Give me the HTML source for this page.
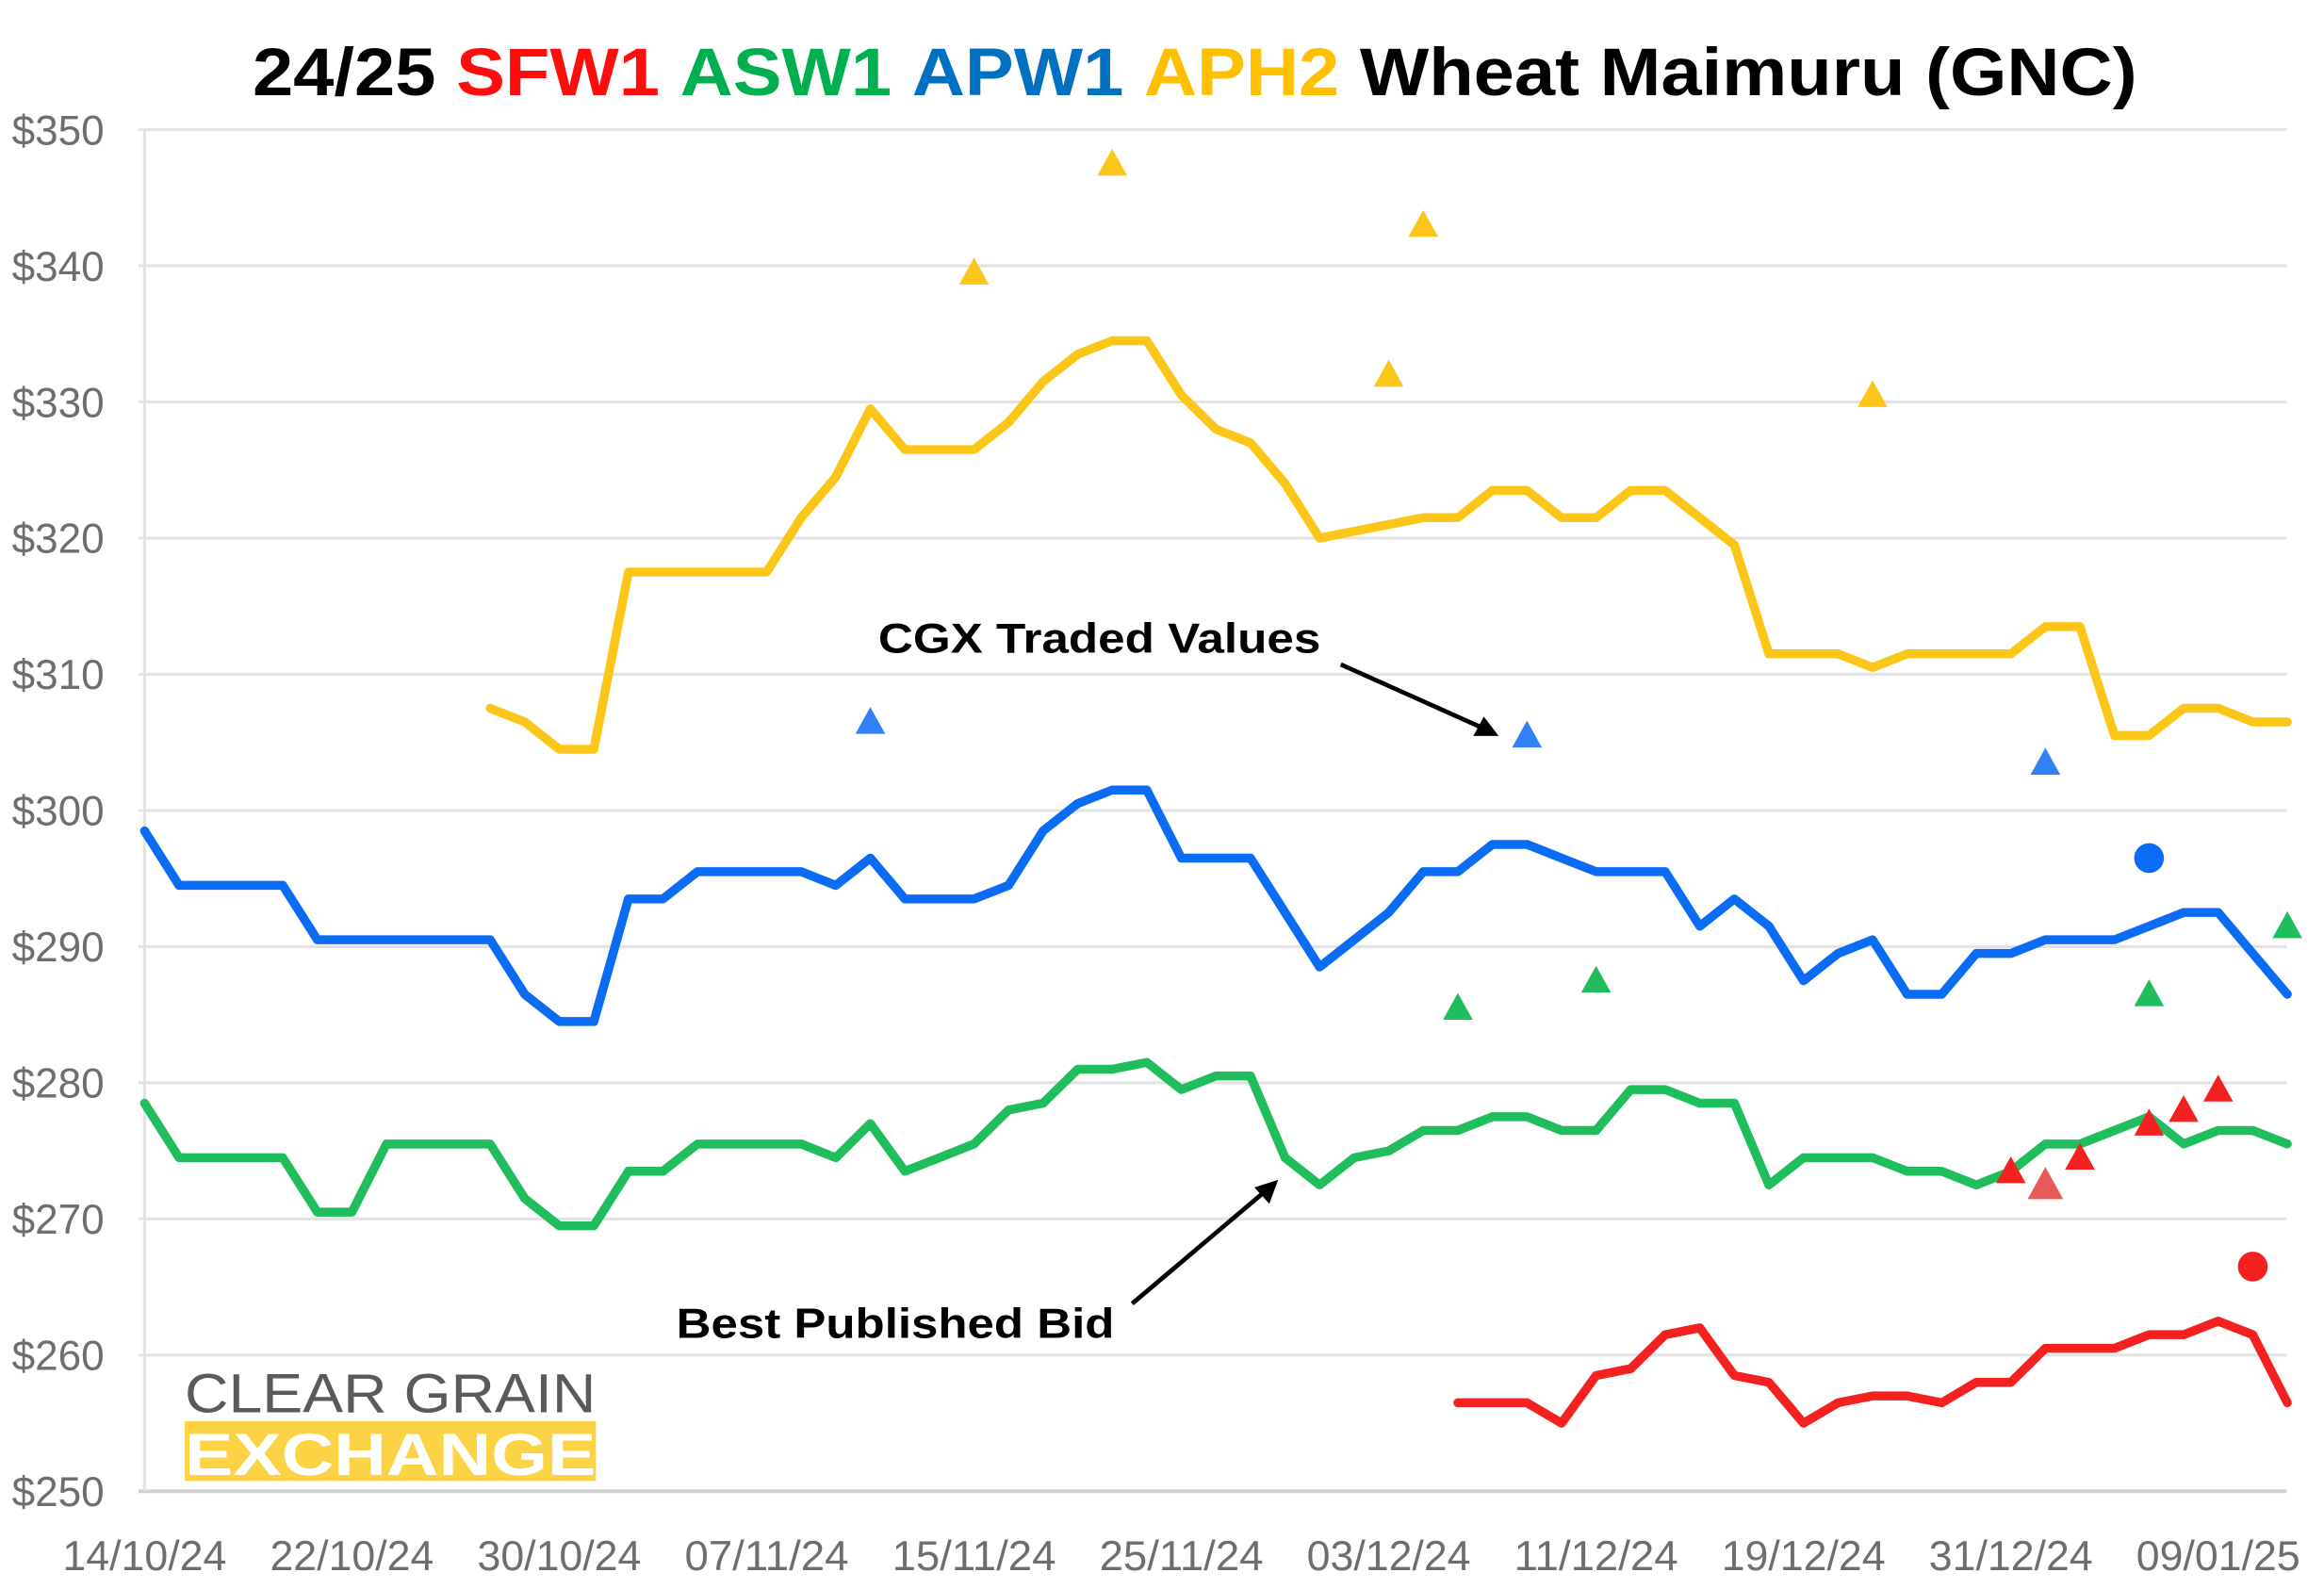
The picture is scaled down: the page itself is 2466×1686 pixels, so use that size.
<!DOCTYPE html>
<html><head><meta charset="utf-8"><style>
html,body{margin:0;padding:0;background:#fff;}
svg{display:block;}
text{font-family:"Liberation Sans",sans-serif;}
</style></head><body>
<svg id="chart" width="2466" height="1686" viewBox="0 0 1560 1066.6" xmlns="http://www.w3.org/2000/svg">
<g>
<text x="802" y="64" text-anchor="middle" font-size="45" font-weight="bold" textLength="1265" lengthAdjust="spacingAndGlyphs"><tspan fill="#000">24/25 </tspan><tspan fill="#ff0d0d">SFW1 </tspan><tspan fill="#00b050">ASW1 </tspan><tspan fill="#0070c0">APW1 </tspan><tspan fill="#ffc000">APH2 </tspan><tspan fill="#000">Wheat Maimuru (GNC)</tspan></text>
</g>
<g id="grid"></g>
<g id="yaxis"></g>
<g id="xaxis"></g>
<g>
<text x="124" y="948" font-size="37" fill="#5a5a5a" textLength="276" lengthAdjust="spacingAndGlyphs">CLEAR GRAIN</text>
<rect x="124" y="954" width="276" height="40" fill="#fcd344"/>
<text x="124" y="990" font-size="40" font-weight="bold" fill="#fff" textLength="276" lengthAdjust="spacingAndGlyphs">EXCHANGE</text>
</g>
<g id="series"></g>
<g id="markers"></g>
<g>
<text x="738" y="438" text-anchor="middle" font-size="28" font-weight="bold" fill="#000" textLength="297" lengthAdjust="spacingAndGlyphs">CGX Traded Values</text>
<line x1="900" y1="446" x2="996" y2="489" stroke="#000" stroke-width="3"/>
<polygon points="1006,494 989,494 996,481" fill="#000"/>
<text x="601" y="898" text-anchor="middle" font-size="28" font-weight="bold" fill="#000" textLength="294" lengthAdjust="spacingAndGlyphs">Best Published Bid</text>
<line x1="760" y1="875" x2="850" y2="799" stroke="#000" stroke-width="3"/>
<polygon points="858,792 852,808 842,797" fill="#000"/>
</g>
</svg>
<script>
const xLabels = ["14/10/24","22/10/24","30/10/24","07/11/24","15/11/24","25/11/24","03/12/24","11/12/24","19/12/24","31/12/24","09/01/25"];
const yTicks = [250,260,270,280,290,300,310,320,330,340,350];
const apw1 = [298.5,294.5,294.5,294.5,294.5,290.5,290.5,290.5,290.5,290.5,290.5,286.5,284.5,284.5,293.5,293.5,295.5,295.5,295.5,295.5,294.5,296.5,293.5,293.5,293.5,294.5,298.5,300.5,301.5,301.5,296.5,296.5,296.5,292.5,288.5,290.5,292.5,295.5,295.5,297.5,297.5,296.5,295.5,295.5,295.5,291.5,293.5,291.5,287.5,289.5,290.5,286.5,286.5,289.5,289.5,290.5,290.5,290.5,291.5,292.5,292.5,289.5,286.5];
const asw1 = [278.5,274.5,274.5,274.5,274.5,270.5,270.5,275.5,275.5,275.5,275.5,271.5,269.5,269.5,273.5,273.5,275.5,275.5,275.5,275.5,274.5,277,273.5,274.5,275.5,278,278.5,281,281,281.5,279.5,280.5,280.5,274.5,272.5,274.5,275,276.5,276.5,277.5,277.5,276.5,276.5,279.5,279.5,278.5,278.5,272.5,274.5,274.5,274.5,273.5,273.5,272.5,273.5,275.5,275.5,276.5,277.5,275.5,276.5,276.5,275.5];
const aph2 = [null,null,null,null,null,null,null,null,null,null,307.5,306.5,304.5,304.5,317.5,317.5,317.5,317.5,317.5,321.5,324.5,329.5,326.5,326.5,326.5,328.5,331.5,333.5,334.5,334.5,330.5,328,327,324,320,320.5,321,321.5,321.5,323.5,323.5,321.5,321.5,323.5,323.5,321.5,319.5,311.5,311.5,311.5,310.5,311.5,311.5,311.5,311.5,313.5,313.5,305.5,305.5,307.5,307.5,306.5,306.5];
const sfw1Start = 38;
const sfw1 = [256.5,256.5,256.5,255,258.5,259,261.5,262,258.5,258,255,256.5,257,257,256.5,258,258,260.5,260.5,260.5,261.5,261.5,262.5,261.5,256.5];
const tradeIdx = [24,28,36,37,50, 21,40,55, 38,42,58,62, 54,55,56,58,59,60];
const tradeVal = [339.5,347.5,332,343,330.5, 306.5,305.5,303.5, 285.5,287.5,286.5,291.5, 273.5,272.5,274.5,277,278,279.5];
const tradeSer = ["aph2","aph2","aph2","aph2","aph2","apw1","apw1","apw1","asw1","asw1","asw1","asw1","sfw1","sfw1","sfw1","sfw1","sfw1","sfw1"];
const circleIdx = [58,61];
const circleVal = [296.5,266.5];
const circleSer = ["apw1","sfw1"];

const NS="http://www.w3.org/2000/svg";
const X0=97, STEP=23.2, Y0=1001, YS=9.14;
const x = i => X0 + STEP*i;
const y = v => Y0 - (v-250)*YS;
const colors = {apw1:"#0a6cf5", asw1:"#1fbd5c", aph2:"#fcc619", sfw1:"#f52020"};
const mk = (tag, attrs, parent) => { const e=document.createElementNS(NS,tag); for(const k in attrs) e.setAttribute(k,attrs[k]); parent.appendChild(e); return e; };

const grid=document.getElementById('grid'), ya=document.getElementById('yaxis'), xa=document.getElementById('xaxis');
yTicks.forEach(t=>{
  const l=mk('line',{x1:X0-4,x2:1535,y1:y(t),y2:y(t),stroke:t===250?"#cfcfcf":"#e3e3e3","stroke-width":t===250?2.5:2},grid);
  
  
  const tx=mk('text',{x:70,y:y(t)+10,"text-anchor":"end","font-size":28,fill:"#6e6e6e",textLength:62,lengthAdjust:"spacingAndGlyphs"},ya);
  tx.textContent='$'+t;
  
  
});
const ax=mk('line',{x1:X0,x2:X0,y1:y(350),y2:y(250),stroke:"#e3e3e3","stroke-width":2},grid);


xLabels.forEach((s,k)=>{
  const tx=mk('text',{x:x(k*6),y:1054,"text-anchor":"middle","font-size":28,fill:"#6e6e6e",textLength:110,lengthAdjust:"spacingAndGlyphs"},xa);
  tx.textContent=s;
  
  
});

const ser=document.getElementById('series');
function line(vals,start,name){
  const pts=[]; vals.forEach((v,i)=>{ if(v!==null) pts.push(x(i+start).toFixed(1)+','+y(v).toFixed(1)); });
  const p=mk('polyline',{points:pts.join(' '),fill:"none",stroke:colors[name],"stroke-width":6,"stroke-linejoin":"round","stroke-linecap":"round"},ser);
  
  
}
line(aph2,0,'aph2'); line(apw1,0,'apw1'); line(asw1,0,'asw1'); line(sfw1,sfw1Start,'sfw1');

const mg=document.getElementById('markers');
tradeIdx.forEach((i,k)=>{
  const cx=x(i), cy=y(tradeVal[k]); const big=(i===55&&tradeSer[k]==="sfw1");
  const h=big?12:10, w=big?12:10;
  const t=mk('polygon',{points:`${cx},${cy-h} ${cx+w},${cy+h*0.8} ${cx-w},${cy+h*0.8}`,fill:big?"#e85a5a":colors[tradeSer[k]],opacity:tradeSer[k]==="apw1"?0.85:1},mg);
  
  
});
circleIdx.forEach((i,k)=>{
  const c=mk('circle',{cx:x(i),cy:y(circleVal[k]),r:10,fill:colors[circleSer[k]]},mg);
  
  
});
</script>
</body></html>
